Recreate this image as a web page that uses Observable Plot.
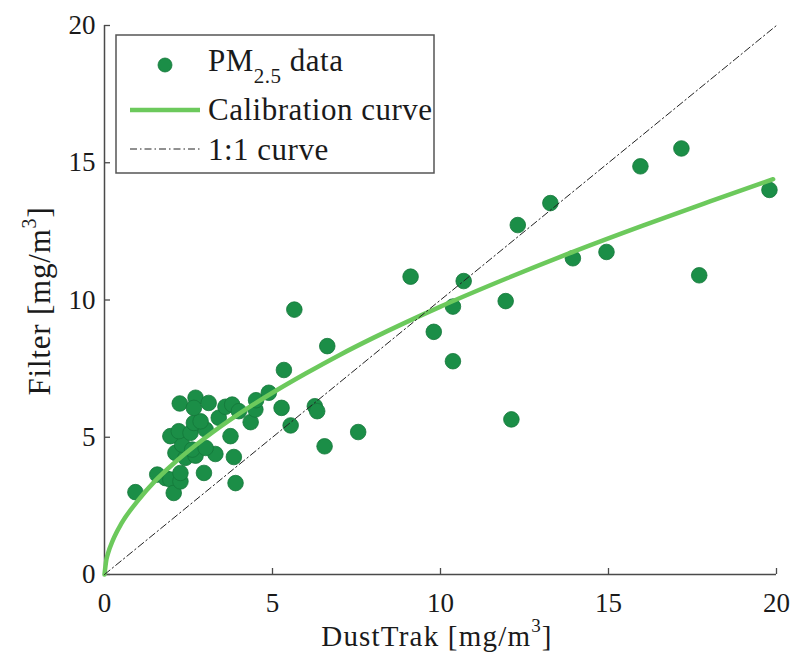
<!DOCTYPE html>
<html><head><meta charset="utf-8">
<script src="https://cdn.jsdelivr.net/npm/d3@7"></script>
<script src="https://cdn.jsdelivr.net/npm/@observablehq/plot@0.6"></script>
<style>
body{margin:0;background:#fff;}
#chart{position:relative;width:793px;height:662px;}
#chart svg text{font-family:"Liberation Serif","DejaVu Serif",serif;}
</style></head><body><div id="chart"></div>
<script>
// PM2.5 data: DustTrak reading vs filter reading (mg/m3)
const dustTrak = [0.92,1.57,1.82,1.96,2.06,2.26,2.26,2.96,3.90,2.11,2.41,2.71,3.30,3.85,2.31,2.61,3.01,1.96,2.21,2.56,3.01,3.75,2.66,2.86,3.40,2.24,2.71,2.66,3.10,3.60,3.80,4.00,4.35,4.49,4.51,4.89,5.27,5.54,5.34,5.65,6.63,6.26,6.33,6.55,7.55,9.11,9.80,10.37,10.37,10.69,11.94,12.11,12.30,13.27,13.94,14.94,15.95,17.17,17.70,19.79];
const filter   = [3.00,3.64,3.51,3.46,2.97,3.39,3.70,3.70,3.33,4.43,4.25,4.33,4.39,4.28,4.73,4.55,4.61,5.04,5.22,5.16,5.28,5.04,5.52,5.58,5.71,6.23,6.44,6.07,6.25,6.11,6.19,5.95,5.55,6.01,6.35,6.62,6.07,5.43,7.45,9.65,8.32,6.13,5.95,4.67,5.19,10.85,8.84,9.76,7.77,10.69,9.96,5.65,12.73,13.53,11.52,11.75,14.87,15.52,10.90,14.01];
// Calibration curve
const curveX = [0,0.05,0.1,0.25,0.5,1,1.5,2,3,4,5,6,7,8,10,12,14,16,18,19.9];
const curveY = [0,0.5,0.75,1.25,1.85,2.7,3.4,3.98,4.98,5.85,6.62,7.33,8.0,8.62,9.76,10.8,11.78,12.7,13.58,14.4];
// 1:1 line
const oneToOne = [0,20];
const xTicks = [0,5,10,15,20];
const yTicks = [0,5,10,15,20];
const legendLabels = ["PM","2.5"," data","Calibration curve","1:1 curve"];
const xTitle = ["DustTrak [mg/m","3","]"];
const yTitle = ["Filter [mg/m","3","]"];

const points = dustTrak.map((x,i)=>({x, y: filter[i]}));
const curve = curveX.map((x,i)=>({x, y: curveY[i]}));
const diag = oneToOne.map(v=>({x:v, y:v}));

const FONT = "Liberation Serif, DejaVu Serif, serif";
const DOT = "#1b8e47", DOTS = "#14773a", CAL = "#6cc95c", AX = "#4a4a4a";

const plot = Plot.plot({
  width: 793, height: 662,
  marginLeft: 104, marginRight: 17, marginTop: 25, marginBottom: 88,
  x: {domain:[0,20]}, y: {domain:[0,20]},
  style: {fontFamily: FONT, fontSize: "27px", color: "#1a1a1a", background: "#fff", overflow: "visible"},
  marks: [
    Plot.axisX({ticks: xTicks, tickSize: 0, tickPadding: 18, label: null, tickFormat: d=>String(d), fill:"#1a1a1a"}),
    Plot.axisY({ticks: yTicks, tickSize: 0, tickPadding: 9, label: null, tickFormat: d=>String(d), fill:"#1a1a1a"}),
    Plot.axisX({ticks: xTicks, tickSize: -6, text: null, label: null, stroke: AX, strokeWidth: 1.3, strokeOpacity: 1}),
    Plot.axisY({ticks: yTicks, tickSize: -6, text: null, label: null, stroke: AX, strokeWidth: 1.3, strokeOpacity: 1}),
    Plot.ruleY([0], {stroke: AX, strokeWidth: 1.5}),
    Plot.ruleX([0], {stroke: AX, strokeWidth: 1.5}),
    Plot.dot(points, {x:"x", y:"y", r:7.8, fill: DOT, stroke: DOTS, strokeWidth: 0.8}),
    Plot.line(curve, {x:"x", y:"y", stroke: CAL, strokeWidth: 4.5, curve: "monotone-x"}),
    Plot.line(diag, {x:"x", y:"y", stroke: "#222", strokeWidth: 1, strokeDasharray: "7,3,1.5,3"})
  ]
});
document.getElementById("chart").appendChild(plot);

const svg = d3.select(plot);
// axis titles
const xt = svg.append("text").attr("x", 437).attr("y", 646).attr("text-anchor","middle")
  .attr("font-size", 29).attr("fill","#1a1a1a").attr("letter-spacing", 1.2);
xt.append("tspan").text(xTitle[0]);
xt.append("tspan").text(xTitle[1]).attr("font-size", 19).attr("dy", -14);
xt.append("tspan").text(xTitle[2]).attr("dy", 14);

const yt = svg.append("text").attr("transform","translate(50,301) rotate(-90)").attr("text-anchor","middle")
  .attr("font-size", 31).attr("fill","#1a1a1a").attr("letter-spacing", 0.8);
yt.append("tspan").text(yTitle[0]);
yt.append("tspan").text(yTitle[1]).attr("font-size", 20).attr("dy", -14);
yt.append("tspan").text(yTitle[2]).attr("dy", 14);

// legend
const lg = svg.append("g").attr("text-anchor","start");
lg.append("rect").attr("x",116).attr("y",35).attr("width",318).attr("height",138)
  .attr("fill","#fff").attr("stroke","#555").attr("stroke-width",1.5);
lg.append("circle").attr("cx",165).attr("cy",65).attr("r",7).attr("fill",DOT).attr("stroke",DOTS).attr("stroke-width",0.8);
lg.append("line").attr("x1",130).attr("x2",200).attr("y1",110).attr("y2",110).attr("stroke",CAL).attr("stroke-width",4.5);
lg.append("line").attr("x1",130).attr("x2",200).attr("y1",149).attr("y2",149).attr("stroke","#222").attr("stroke-width",1).attr("stroke-dasharray","7,3,1.5,3");
const t1 = lg.append("text").attr("x",208).attr("y",71).attr("font-size",31).attr("fill","#1a1a1a").attr("letter-spacing",0.5);
t1.append("tspan").text(legendLabels[0]);
t1.append("tspan").text(legendLabels[1]).attr("font-size",21).attr("dy",12);
t1.append("tspan").text(legendLabels[2]).attr("dy",-12);
lg.append("text").attr("x",208).attr("y",120).attr("font-size",31).attr("fill","#1a1a1a").attr("letter-spacing",0.5).text(legendLabels[3]);
lg.append("text").attr("x",208).attr("y",160).attr("font-size",31).attr("fill","#1a1a1a").attr("letter-spacing",0.5).text(legendLabels[4]);
</script>
</body></html>
